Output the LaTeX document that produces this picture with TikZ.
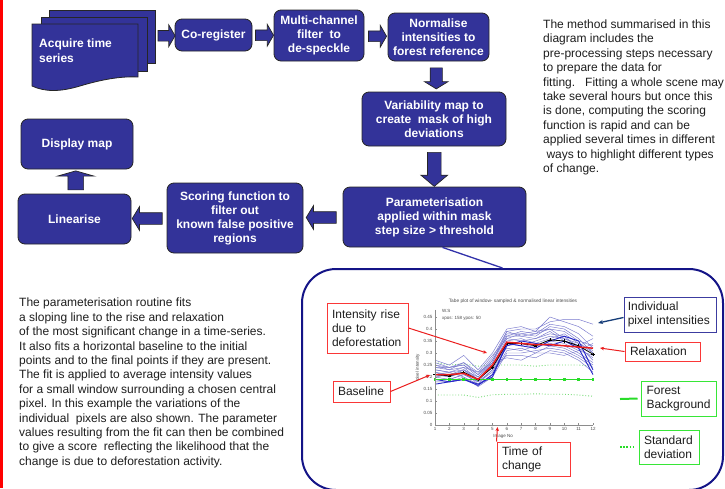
\documentclass[tikz,border=0pt]{standalone}
\usepackage{fontspec}
\setmainfont{Liberation Sans}
\usetikzlibrary{shapes.arrows,arrows.meta,calc}
\definecolor{boxblue}{RGB}{51,51,153}
\definecolor{panelnavy}{RGB}{20,20,135}
\definecolor{linkblue}{RGB}{50,50,170}
\definecolor{txt}{RGB}{30,30,30}
\definecolor{lblred}{RGB}{250,55,55}
\definecolor{lblgreen}{RGB}{55,230,55}
\definecolor{lblblue}{RGB}{60,60,160}
\definecolor{pixblue}{RGB}{120,120,205}
\definecolor{thickblue}{RGB}{40,40,200}
\definecolor{darkarrow}{RGB}{20,60,120}
\definecolor{fitred}{RGB}{235,30,30}
\definecolor{bggreen}{RGB}{40,220,40}
\definecolor{sdgreen}{RGB}{120,220,120}
\definecolor{axisgray}{RGB}{140,140,140}
\newcommand\pixline[3][]{\draw[pixln,#1] (1,#2) \foreach[count=\i from 2] \v in {#3} {-- (\i,\v)};}
\begin{document}
\begin{tikzpicture}[x=1pt,y=-1pt,
  flowbox/.style={draw=black!85, line width=0.8pt, fill=boxblue, rounded corners=7pt,
    text=white, font=\fontsize{12}{14}\selectfont\bfseries, align=center, inner sep=0pt},
  pagebox/.style={draw=black!85, line width=0.8pt, fill=boxblue, inner sep=0pt},
  barrow/.style={single arrow, draw=black!85, line width=0.7pt, fill=boxblue, inner xsep=0pt},
  varrow/.style={single arrow, draw=black!85, line width=0.7pt, fill=boxblue, inner ysep=0pt},
  lbl/.style={draw, line width=1pt, fill=white, font=\fontsize{12}{14}\selectfont,
    text=txt, align=left, inner xsep=5pt, inner ysep=0pt},
  para/.style={font=\fontsize{12}{14.4}\selectfont, text=txt, align=left, inner sep=0pt, anchor=north west},
  redln/.style={fitred, line width=1pt, -{Stealth[length=4pt,width=3.5pt]}},
  pixln/.style={pixblue, line width=0.45pt},
  tick/.style={font=\fontsize{4.5}{5}\selectfont, text=black!70, inner sep=0.5pt}
]
\useasboundingbox (0,0) rectangle (725,488);
\fill[white] (0,0) rectangle (725,488);
\fill[red] (0,0) rectangle (2.5,488);

% --- acquire time series (document stack)
\node[pagebox, minimum width=106pt, minimum height=53pt] (acq3) at (102,36.5) {};
\node[pagebox, minimum width=106pt, minimum height=54pt] (acq2) at (94,44) {};
\draw[draw=black!85, line width=0.8pt, fill=boxblue]
  (32,24) -- (138,24) -- (138,77)
  .. controls (120,76) and (100,80) .. (80,86)
  .. controls (60,92) and (45,92) .. (32,86) -- cycle;
\node[text=white, font=\fontsize{12}{14.5}\selectfont\bfseries, align=left, anchor=west, inner sep=0pt] (acq) at (39,50.5) {Acquire time\\series};

% --- flow boxes
\node[flowbox, minimum width=77pt, minimum height=32pt] (coreg) at (213.5,35) {Co-register};
\node[flowbox, minimum width=90pt, minimum height=51pt] (multi) at (319,35.5) {Multi-channel\\filter\ \ to\\de-speckle};
\node[flowbox, minimum width=101pt, minimum height=48pt] (norm) at (438.5,37) {Normalise\\intensities to\\forest reference};
\node[flowbox, minimum width=144pt, minimum height=54pt] (var) at (434,119) {Variability map to\\create\ \ mask of high\\deviations};
\node[flowbox, minimum width=183pt, minimum height=60pt] (param) at (434.5,217) {Parameterisation\\applied within mask\\step size > threshold};
\node[flowbox, minimum width=136pt, minimum height=70pt] (scoring) at (235,218) {Scoring function to\\filter out\\known false positive\\regions};
\node[flowbox, minimum width=113pt, minimum height=50pt] (linear) at (74.5,219) {Linearise};
\node[flowbox, minimum width=112pt, minimum height=50pt] (display) at (77,144) {Display map};

% --- block arrows
\node[barrow, inner ysep=5pt, minimum height=17pt, single arrow head extend=5.5pt, single arrow tip angle=120] (ar1) at ($(acq3.east)!0.5!(coreg.west)$) {};
\node[barrow, inner ysep=5pt, minimum height=18pt, single arrow head extend=5.5pt, single arrow tip angle=120] (ar2) at ($(coreg.east)!0.5!(multi.west)$) {};
\node[barrow, inner ysep=5pt, minimum height=18pt, single arrow head extend=5.5pt, single arrow tip angle=120] (ar3) at ($(multi.east)!0.5!(norm.west)$) {};
\node[varrow, shape border rotate=270, inner xsep=5.75pt, minimum height=21pt, single arrow head extend=5.75pt, single arrow tip angle=117] (ar4) at ($(norm.south)!0.5!(var.north)$) {};
\node[varrow, shape border rotate=270, inner xsep=6.5pt, minimum height=34pt, single arrow head extend=6.5pt, single arrow tip angle=100] (ar5) at ($(var.south)!0.5!(param.north)$) {};
\node[barrow, shape border rotate=180, inner ysep=5.5pt, minimum height=30pt, single arrow head extend=6pt, single arrow tip angle=117] (ar6) at ($(param.west)!0.5!(scoring.east)$) {};
\node[barrow, shape border rotate=180, inner ysep=5.5pt, minimum height=30pt, single arrow head extend=6pt, single arrow tip angle=117] (ar7) at ($(scoring.west)!0.5!(linear.east)$) {};
\node[varrow, shape border rotate=90, inner xsep=7.5pt, minimum height=19pt, single arrow head extend=10.5pt, single arrow tip angle=148] (ar8) at ($(linear.north)!0.5!(display.south)$) {};

% --- explanatory texts
\node[para] (methodtxt) at (543,19.5) {The method summarised in this\\diagram includes the\\pre-processing steps necessary\\to prepare the data for\\fitting.\ \ \ Fitting a whole scene may\\take several hours but once this\\is done, computing the scoring\\function is rapid and can be\\applied several times in different\\\ ways to highlight different types\\of change.};
\node[para] (paramtxt) at (19,298) {The parameterisation routine fits\\a sloping line to the rise and relaxation\\of the most significant change in a time-series.\\It also fits a horizontal baseline to the initial\\points and to the final points if they are present.\\The fit is applied to average intensity values\\for a small window surrounding a chosen central\\pixel. In this example the variations of the\\individual\ \ pixels are also shown. The parameter\\values resulting from the fit can then be combined\\to give a score\ \ reflecting the likelihood that the\\change is due to deforestation activity.};

% --- panel
\node[draw=panelnavy, line width=2pt, rounded corners=34pt, fill=white, minimum width=421pt, minimum height=221pt, inner sep=0pt] (panel) at (512.5,379.5) {};
\draw[linkblue, line width=1.3pt] ([xshift=8pt]param.south) -- ([xshift=-10pt]panel.north);

% --- plot
\begin{scope}[shift={(420.636,425)}, x={(14.364pt,0pt)}, y={(0pt,240pt)}]
  \node[tick, font=\fontsize{4.8}{5}\selectfont] (ptitle) at (6.43,0.517) {Tabe plot of window- sampled \& normalised linear intensities};
  \node[tick, anchor=west] (pws) at (1.45,0.475) {W.S};
  \node[tick, anchor=west] (ppos) at (1.45,0.446) {xpos: 158 ypos: 50};
  \node[tick, rotate=90] (pylab) at (-0.2,0.24) {pixel intensity};
  \node[tick] (pxlab) at (5.74,-0.046) {Image No};
  % standard deviation
  \draw[sdgreen, line width=0.9pt, dotted] (1,.26) \foreach[count=\i from 2] \v in {.25,.255,.245,.25,.25,.25,.245,.25,.25,.25,.245} {-- (\i,\v)};
  \draw[sdgreen, line width=0.9pt, dotted] (1,.125) \foreach[count=\i from 2] \v in {.125,.125,.115,.126,.128,.128,.13,.128,.128,.125,.12} {-- (\i,\v)};
  % individual pixels
  \pixline{.27}{.25,.29,.23,.30,.40,.41,.39,.45,.43,.41,.37}
  \pixline{.25}{.23,.26,.21,.28,.39,.40,.40,.43,.44,.44,.42}
  \pixline{.24}{.24,.25,.20,.27,.38,.38,.37,.41,.40,.36,.30}
  \pixline{.23}{.22,.24,.19,.26,.37,.39,.38,.40,.39,.35,.33}
  \pixline{.22}{.21,.23,.18,.25,.36,.35,.36,.38,.37,.32,.28}
  \pixline{.21}{.20,.22,.19,.24,.35,.36,.34,.36,.38,.34,.31}
  \pixline{.20}{.21,.22,.17,.23,.34,.33,.35,.37,.36,.33,.27}
  \pixline{.19}{.19,.21,.18,.22,.33,.34,.32,.35,.34,.31,.29}
  \pixline{.22}{.20,.23,.19,.25,.32,.31,.33,.34,.33,.30,.26}
  \pixline{.21}{.22,.20,.17,.21,.31,.32,.30,.33,.32,.29,.25}
  \pixline{.18}{.18,.20,.16,.20,.30,.30,.31,.32,.31,.28,.24}
  \pixline{.20}{.19,.21,.18,.23,.29,.29,.28,.31,.30,.27,.22}
  \pixline{.25}{.24,.25,.21,.27,.37,.37,.36,.39,.35,.33,.36}
  \pixline{.23}{.22,.23,.20,.26,.28,.27,.30,.30,.29,.31,.34}
  \pixline{.24}{.23,.24,.22,.26,.39,.37,.38,.42,.41,.38,.32}
  \pixline{.26}{.24,.26,.22,.29,.36,.38,.39,.40,.36,.34,.30}
  \pixline[thickblue, line width=0.9pt]{.19}{.18,.19,.165,.21,.33,.35,.34,.33,.35,.32,.21}
  \pixline[thickblue, line width=0.9pt]{.17}{.18,.19,.17,.20,.34,.33,.32,.35,.37,.35,.23}
  % forest background
  \draw[bggreen, line width=1.3pt] (1,.19) -- (12,.19);
  \foreach \i in {1,...,12} \fill[bggreen] (\i,.19) ++(-1.3pt,-1.3pt) rectangle ++(2.6pt,2.6pt);
  % mean
  \draw[black, line width=0.8pt] (1,.21) \foreach[count=\i from 2] \v in {.205,.22,.19,.24,.34,.34,.33,.355,.35,.33,.295} {-- (\i,\v)};
  \foreach \v [count=\i] in {.21,.205,.22,.19,.24,.34,.34,.33,.355,.35,.33,.295}
    \draw[black, line width=0.5pt] (\i,\v) ++(-1.6pt,0) -- ++(3.2pt,0) (\i,\v) ++(0,-1.6pt) -- ++(0,3.2pt);
  % fit
  \draw[fitred, line width=1.5pt] (1,.21) \foreach[count=\i from 2] \v in {.21,.215,.19,.25,.345,.34,.335,.335,.33,.325,.32} {-- (\i,\v)};
  % axes
  \draw[axisgray, line width=0.6pt] (1,.48) -- (1,0) -- (12,0);
  \foreach \i in {1,...,12} {
    \draw[axisgray, line width=0.4pt] (\i,0) -- ++(0,2pt);
    \node[tick, anchor=north] (xt\i) at (\i,-0.008) {\i};
  }
  \foreach \v/\l [count=\k] in {0/0,0.05/0.05,0.1/0.1,0.15/0.15,0.2/0.2,0.25/0.25,0.3/0.3,0.35/0.35,0.4/0.4,0.45/0.45} {
    \draw[axisgray, line width=0.4pt] (1,\v) -- ++(2pt,0);
    \node[tick, anchor=east] (yt\k) at ([xshift=-2pt]1,\v) {\l};
  }
\end{scope}

% --- plot labels
\node[lbl, draw=lblred, text width=71pt, minimum height=50pt] (rise) at (367.5,328) {Intensity rise\\due to\\deforestation};
\node[lbl, draw=lblred, text width=47pt, minimum height=21pt] (base) at (361.5,391.5) {Baseline};
\node[lbl, draw=lblblue, inner xsep=3.75pt, text width=84.5pt, minimum height=35pt] (pix) at (670,314.5) {Individual\\pixel intensities};
\node[lbl, draw=lblred, text width=65pt, minimum height=19pt] (relax) at (662.5,351.5) {Relaxation};
\node[lbl, draw=lblgreen, inner xsep=5.5pt, text width=64pt, minimum height=35pt] (forest) at (678.5,398.5) {Forest\\Background};
\node[lbl, draw=lblgreen, inner xsep=5pt, text width=50pt, minimum height=34pt] (sd) at (669,447) {Standard\\deviation};
\node[lbl, draw=lblred, text width=63pt, minimum height=34pt] (time) at (533.5,459) {Time of\\change};

\coordinate (riseTip) at (487,353);
\coordinate (baseTip) at (430,375);
\coordinate (pixTip) at (598,323);
\coordinate (relTip) at (600,348);
\coordinate (fbA) at (620,399);
\coordinate (sdA) at (620,447);
\coordinate (timeTip) at (497.5,427);
\draw[redln] (rise.east) -- (riseTip);
\draw[redln] (base.east) -- (baseTip);
\draw[darkarrow, line width=1.3pt, -{Stealth[length=5pt,width=4pt]}] ([yshift=-3pt]pix.west) -- (pixTip);
\draw[redln] (relax.west) -- (relTip);
\draw[bggreen, line width=2pt] (fbA) -- ([xshift=-3pt]forest.west);
\draw[bggreen, line width=1.6pt, dash pattern=on 1.6pt off 1.6pt] (sdA) -- ([xshift=-4pt]sd.west);
\draw[redln] (time.north west) -- (timeTip);
\end{tikzpicture}
\end{document}
